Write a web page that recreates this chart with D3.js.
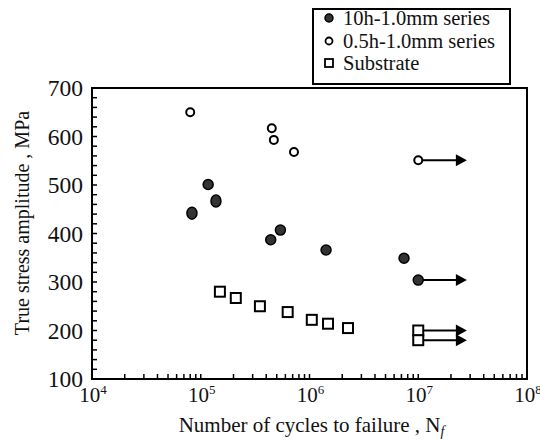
<!DOCTYPE html>
<html>
<head>
<meta charset="utf-8">
<script src="https://cdn.jsdelivr.net/npm/d3@7"></script>
<style>
  body { margin: 0; background: #fff; }
  svg text { font-family: "Liberation Serif", "Times New Roman", serif; fill: #111; }
</style>
</head>
<body>
<svg id="chart" width="540" height="441"></svg>
<script>
// 10h-1.0mm series (filled circles)
var n10h = [8.3e4, 1.17e5, 1.38e5, 4.4e5, 5.4e5, 1.42e6, 7.4e6, 1.0e7];
var s10h = [442, 501, 467, 387, 407, 366, 349, 304];
// 0.5h-1.0mm series (open circles)
var n05h = [8.0e4, 4.5e5, 4.7e5, 7.2e5, 1.0e7];
var s05h = [650, 617, 593, 568, 551];
// substrate (open squares)
var nSub = [1.5e5, 2.1e5, 3.5e5, 6.3e5, 1.05e6, 1.48e6, 2.26e6, 1.0e7, 1.0e7];
var sSub = [280, 267, 250, 238, 222, 214, 205, 200, 180];
// run-outs (no failure) : start cycles, stress, arrow end
var runN = [1.0e7, 1.0e7, 1.0e7, 1.0e7];
var runS = [551, 304, 200, 180];
var runEnd = 2.8e7;

var xTicks = [1e4, 1e5, 1e6, 1e7, 1e8];
var xExp = ["4", "5", "6", "7", "8"];
var yTicks = [100, 200, 300, 400, 500, 600, 700];
var legendLabels = ["10h-1.0mm series", "0.5h-1.0mm series", "Substrate"];

var svg = d3.select("#chart");
var pLeft = 92, pRight = 527, pTop = 88, pBottom = 379;

var x = d3.scaleLog().domain([1e4, 1e8]).range([pLeft, pRight]);
var y = d3.scaleLinear().domain([100, 700]).range([pBottom, pTop]);

// minor ticks
var xMinor = [];
for (var e = 4; e < 8; e++) {
  for (var k = 2; k <= 9; k++) xMinor.push(k * Math.pow(10, e));
}
var yMinor = d3.range(100, 701, 20);

var g = svg.append("g");

g.selectAll("line.xt")
  .data(xMinor.concat(xTicks))
  .enter().append("line")
  .attr("x1", function(d) { return x(d); })
  .attr("x2", function(d) { return x(d); })
  .attr("y1", pBottom)
  .attr("y2", pBottom - 5)
  .attr("stroke", "#000").attr("stroke-width", 1.5);

g.selectAll("line.yt")
  .data(yMinor)
  .enter().append("line")
  .attr("x1", pLeft)
  .attr("x2", pLeft + 5)
  .attr("y1", function(d) { return y(d); })
  .attr("y2", function(d) { return y(d); })
  .attr("stroke", "#000").attr("stroke-width", 1.5);

// frame
g.append("rect")
  .attr("x", pLeft).attr("y", pTop)
  .attr("width", pRight - pLeft).attr("height", pBottom - pTop)
  .attr("fill", "none").attr("stroke", "#000").attr("stroke-width", 2);

// y tick labels
g.selectAll("text.yl")
  .data(yTicks)
  .enter().append("text")
  .attr("x", pLeft - 9)
  .attr("y", function(d) { return y(d); })
  .attr("dy", "0.35em")
  .attr("text-anchor", "end")
  .attr("font-size", 23.5)
  .text(function(d) { return d; });

// x tick labels 10^n
var xl = g.selectAll("text.xl")
  .data(xTicks)
  .enter().append("text")
  .attr("x", function(d) { return x(d) + 1; })
  .attr("y", 402)
  .attr("text-anchor", "middle")
  .attr("font-size", 21);
xl.append("tspan").text("10");
xl.append("tspan")
  .attr("font-size", 13)
  .attr("dy", -8)
  .text(function(d, i) { return xExp[i]; });

// axis titles
var xt = g.append("text")
  .attr("x", (pLeft + pRight) / 2 + 2)
  .attr("y", 432)
  .attr("text-anchor", "middle")
  .attr("font-size", 21);
xt.append("tspan").text("Number of cycles to failure , N");
xt.append("tspan").attr("font-size", 14).attr("font-style", "italic").attr("dy", 4).text("f");

g.append("text")
  .attr("transform", "translate(29,223) rotate(-90)")
  .attr("text-anchor", "middle")
  .attr("font-size", 20)
  .text("True stress amplitude , MPa");

// run-out arrows
var arrows = g.selectAll("g.arrow")
  .data(runN)
  .enter().append("g");
arrows.append("line")
  .attr("x1", function(d) { return x(d); })
  .attr("x2", x(runEnd) - 8)
  .attr("y1", function(d, i) { return y(runS[i]); })
  .attr("y2", function(d, i) { return y(runS[i]); })
  .attr("stroke", "#000").attr("stroke-width", 2);
arrows.append("path")
  .attr("d", function(d, i) {
    var ex = x(runEnd), ey = y(runS[i]);
    return "M" + ex + "," + ey + "L" + (ex - 11) + "," + (ey - 6) + "L" + (ex - 11) + "," + (ey + 6) + "Z";
  })
  .attr("fill", "#000");

// substrate squares
g.selectAll("rect.sub")
  .data(nSub)
  .enter().append("rect")
  .attr("x", function(d) { return x(d) - 5; })
  .attr("y", function(d, i) { return y(sSub[i]) - 5; })
  .attr("width", 10).attr("height", 10)
  .attr("fill", "#fff").attr("stroke", "#000").attr("stroke-width", 2);

// 0.5h open circles
g.selectAll("circle.o")
  .data(n05h)
  .enter().append("circle")
  .attr("cx", function(d) { return x(d); })
  .attr("cy", function(d, i) { return y(s05h[i]); })
  .attr("r", 4)
  .attr("fill", "#fff").attr("stroke", "#000").attr("stroke-width", 2);

// 10h filled circles
g.selectAll("ellipse.f")
  .data(n10h)
  .enter().append("ellipse")
  .attr("cx", function(d) { return x(d); })
  .attr("cy", function(d, i) { return y(s10h[i]); })
  .attr("rx", 5).attr("ry", function(d, i) { return (i == 0 || i == 2) ? 6 : 5; })
  .attr("fill", "#333").attr("stroke", "#000").attr("stroke-width", 1.5);

// legend
var lg = svg.append("g");
lg.append("rect")
  .attr("x", 313).attr("y", 9).attr("width", 197).attr("height", 75)
  .attr("fill", "#fff").attr("stroke", "#000").attr("stroke-width", 2);
lg.selectAll("text")
  .data(legendLabels)
  .enter().append("text")
  .attr("x", 343)
  .attr("y", function(d, i) { return 25 + i * 22.5; })
  .attr("font-size", 20.5)
  .text(function(d) { return d; });
lg.append("circle").attr("cx", 329).attr("cy", 18).attr("r", 4)
  .attr("fill", "#333").attr("stroke", "#000").attr("stroke-width", 1.5);
lg.append("circle").attr("cx", 329).attr("cy", 41).attr("r", 3.5)
  .attr("fill", "#fff").attr("stroke", "#000").attr("stroke-width", 1.8);
lg.append("rect").attr("x", 325).attr("y", 59).attr("width", 8).attr("height", 8)
  .attr("fill", "#fff").attr("stroke", "#000").attr("stroke-width", 1.8);
</script>
</body>
</html>
